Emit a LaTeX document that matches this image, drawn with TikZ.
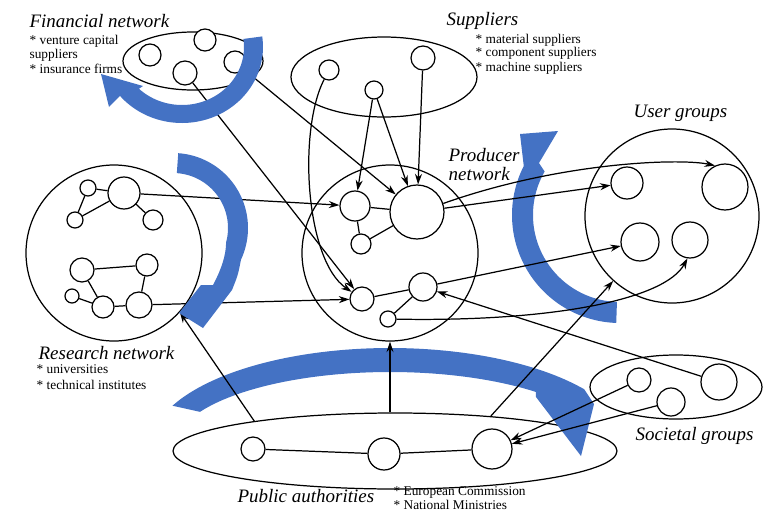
\documentclass[tikz,border=0pt]{standalone}
\usepackage{fontspec}
\setmainfont{Liberation Serif}
\usetikzlibrary{shapes.geometric,arrows.meta}
\definecolor{flowblue}{HTML}{4472C4}
\begin{document}
\begin{tikzpicture}[x=0.02cm,y=-0.02cm,
  line width=0.7pt,
  actor/.style={circle,draw,fill=white,inner sep=0pt,minimum size=2*#1*0.02cm},
  ring/.style={circle,draw,inner sep=0pt,minimum size=2*#1*0.02cm},
  cluster/.style 2 args={ellipse,draw,inner sep=0pt,minimum width=2*#1*0.02cm,minimum height=2*#2*0.02cm},
  tie/.style={draw},
  flowto/.style={-{Stealth[length=6pt,width=4pt]}},
  title/.style={font=\fontsize{10.8}{12}\selectfont\itshape,inner sep=0pt,anchor=base west},
  item/.style={font=\fontsize{7.6}{9}\selectfont,inner sep=0pt,anchor=base west},
  band/.style={fill=flowblue}
]
\useasboundingbox (0,0) rectangle (769,511);

% ---- actor groups ----
\node[cluster={70}{29}] (fin) at (193,61) {};
\node[cluster={93}{40}] (sup) at (384,77) {};
\node[ring=88] (prod) at (390,253) {};
\node[ring=87] (usr) at (672,216) {};
\node[ring=88] (res) at (114,253) {};
\node[cluster={86}{32}] (soc) at (676,387) {};
\node[cluster={222}{38}] (pub) at (395,451) {};

% ---- labels ----
\node[title] (fin-t) at (29,27) {Financial network};
\node[item] (fin-a) at (29,44) {* venture capital};
\node[item] (fin-b) at (29,58) {suppliers};
\node[item] (fin-c) at (29,73) {* insurance firms};
\node[title] (sup-t) at (446,25) {Suppliers};
\node[item] (sup-a) at (475,43) {* material suppliers};
\node[item] (sup-b) at (475,56) {* component suppliers};
\node[item] (sup-c) at (475,71) {* machine suppliers};
\node[title] (prod-t1) at (448,161) {Producer};
\node[title] (prod-t2) at (448,180) {network};
\node[title] (usr-t) at (633,117) {User groups};
\node[title] (res-t) at (38,359) {Research network};
\node[item] (res-a) at (36,373) {* universities};
\node[item] (res-b) at (36,389) {* technical institutes};
\node[title] (soc-t) at (635,440) {Societal groups};
\node[title] (pub-t) at (237,502) {Public authorities};
\node[item] (pub-a) at (393,495) {* European Commission};
\node[item] (pub-b) at (393,509) {* National Ministries};

% ---- broad flows lying under the links ----
% producer <-> users
\fill[band] plot[domain=268:153,samples=60] ({620+108*cos(\x)},{215-108*sin(\x)})
  -- (520,134) -- (558,131) -- (539,163)
  -- plot[domain=150:268,samples=60] ({620+87*cos(\x)},{215-87*sin(\x)}) -- cycle;
% public authorities sweep
\fill[band] plot[domain=155:36,samples=80] ({390+240*cos(\x)},{448-100*sin(\x)})
  -- (594,404) -- (581,456) -- (536,397)
  -- plot[domain=47.5:151.6,samples=80] ({390+216*cos(\x)},{448-76*sin(\x)}) -- cycle;

% ---- individual actors ----
\node[actor=11] (f1) at (150,55) {};
\node[actor=11] (f2) at (205,40) {};
\node[actor=12] (f3) at (185,73) {};
\node[actor=11] (f4) at (235,62) {};

\node[actor=10] (s1) at (329,70) {};
\node[actor=9]  (s2) at (374,90) {};
\node[actor=12] (s3) at (423,58) {};

\node[actor=15] (p1) at (355,206) {};
\node[actor=27] (p2) at (417,212) {};
\node[actor=10] (p3) at (361,244) {};
\node[actor=12] (p4) at (362,299) {};
\node[actor=14] (p5) at (423,287) {};
\node[actor=8]  (p6) at (388,319) {};

\node[actor=16] (u1) at (627,183) {};
\node[actor=23] (u2) at (725,187) {};
\node[actor=19] (u3) at (640,242) {};
\node[actor=18] (u4) at (690,240) {};

\node[actor=8]  (r1) at (88,188) {};
\node[actor=16] (r2) at (124,193) {};
\node[actor=8]  (r3) at (75,220) {};
\node[actor=10] (r4) at (153,220) {};
\node[actor=12] (r5) at (82,270) {};
\node[actor=11] (r6) at (147,265) {};
\node[actor=7]  (r7) at (72,296) {};
\node[actor=11] (r8) at (103,307) {};
\node[actor=13] (r9) at (139,305) {};

\node[actor=12] (c1) at (639,380) {};
\node[actor=14] (c2) at (671,402) {};
\node[actor=18] (c3) at (719,382) {};

\node[actor=12] (a1) at (253,449) {};
\node[actor=16] (a2) at (384,454) {};
\node[actor=20] (a3) at (492,449) {};

% ---- ties inside groups ----
\path[tie] (r1) -- (r2) (r1) -- (r3) (r3) -- (r2) (r2) -- (r4)
           (r5) -- (r6) (r5) -- (r8) (r7) -- (r8) (r8) -- (r9) (r9) -- (r6);
\path[tie] (p1) -- (p2) (p1) -- (p3) (p3) -- (p2) (p4) -- (p5) (p5) -- (p6);
\path[tie] (a1) -- (a2) (a2) -- (a3);

% ---- flows between actors ----
\draw[flowto] (f3) -- (p4);
\draw[flowto] (f4) -- (p2);
\draw[flowto] (s1) .. controls (298,130) and (305,260) .. (p4);
\draw[flowto] (s2) -- (p1);
\draw[flowto] (s2) -- (p2);
\draw[flowto] (s3) -- (p2);
\draw[flowto] (r2) -- (p1);
\draw[flowto] (r9) -- (p4);
\draw[flowto] (p2.18) .. controls (560,162) and (680,158) .. (u2.115);
\draw[flowto] (p2) -- (u1);
\draw[flowto] (p5) -- (u3);
\draw[flowto] (p6) .. controls (550,322) and (665,300) .. (u4.-98);
\draw[flowto] (c3) -- (p5);
\draw[flowto] (c1) -- (a3);
\draw[flowto] (c2) -- (a3);
\draw[flowto] (prod.south |- pub.north) -- (prod.south);
\draw[flowto] (pub.168) -- (res.-42);
\draw[flowto] (pub.20) -- (usr);

% ---- broad flows lying over the links ----
% financial loop
\fill[band] plot[domain=8:-140,samples=60] ({182+81*cos(\x)},{47-76*sin(\x)})
  -- (109,107) -- (101,74) -- (143,86)
  -- plot[domain=-134:8,samples=60] ({182+62*cos(\x)},{47-58*sin(\x)}) -- cycle;
% research -> producer
\fill[band] plot[domain=86:-25,samples=60] ({173+75*cos(\x)},{228-75*sin(\x)})
  .. controls (238,275) .. (232,290)
  -- (203,328) -- (179,313) -- (201,285) -- (213,285)
  .. controls (221,270) and (226,256) .. ({173+55*cos(-15)},{228-55*sin(-15)})
  -- plot[domain=-15:86,samples=60] ({173+55*cos(\x)},{228-55*sin(\x)}) -- cycle;
\end{tikzpicture}
\end{document}
